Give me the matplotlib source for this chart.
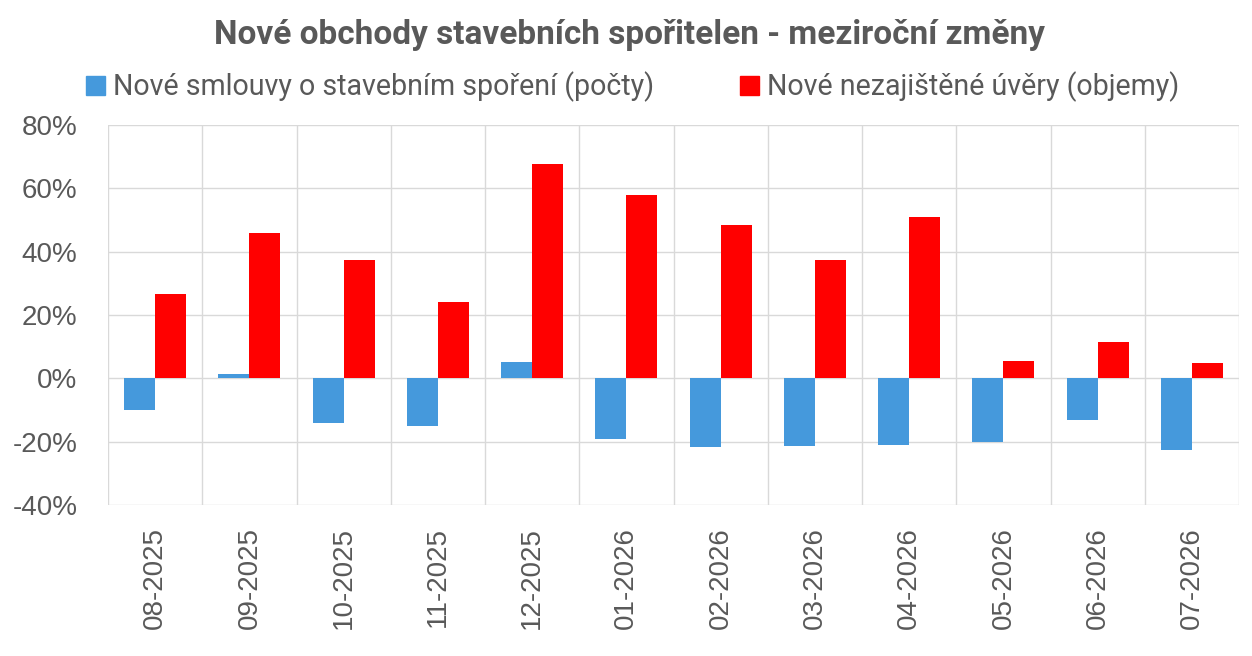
import numpy as np
import matplotlib.pyplot as plt
from matplotlib.patches import Patch
from matplotlib.ticker import FixedLocator, PercentFormatter

months = ["08-2025", "09-2025", "10-2025", "11-2025", "12-2025", "01-2026",
          "02-2026", "03-2026", "04-2026", "05-2026", "06-2026", "07-2026"]
smlouvy = [-10.1, 1.5, -14.2, -15.1, 5.1, -19.3, -21.7, -21.4, -21.2, -20.2, -13.0, -22.7]
uvery = [26.7, 46.0, 37.4, 24.0, 67.6, 57.8, 48.3, 37.3, 51.1, 5.4, 11.4, 4.7]

label_smlouvy = "Nové smlouvy o stavebním spoření (počty)"
label_uvery = "Nové nezajištěné úvěry (objemy)"
title = "Nové obchody stavebních spořitelen - meziroční změny"

BLUE = "#4599DC"
RED = "#FF0000"
GREY = "#595959"
SANS = ["Roboto", "DejaVu Sans"]

plt.rcParams['font.family'] = ["Liberation Sans", "DejaVu Sans"]
plt.rcParams['axes.unicode_minus'] = False

fig = plt.figure(figsize=(12.52, 6.56), dpi=100)
ax = fig.add_axes([108 / 1252, 1 - 505 / 656, 1131 / 1252, 380 / 656])

x = np.arange(len(months))
w = 0.33
ax.bar(x - w / 2, smlouvy, w, color=BLUE, zorder=3)
ax.bar(x + w / 2, uvery, w, color=RED, zorder=3)

ax.set_xlim(-0.5, len(months) - 0.5)
ax.set_ylim(-40, 80)
ax.set_yticks(np.arange(-40, 81, 20))
ax.yaxis.set_major_formatter(PercentFormatter(decimals=0))
ax.set_xticks(x)
ax.set_xticklabels(months, rotation=90)
ax.xaxis.set_minor_locator(FixedLocator(np.arange(-0.5, len(months), 1.0)))

ax.grid(axis='y', color='#D9D9D9', linewidth=1, zorder=0)
ax.grid(axis='x', which='minor', color='#D9D9D9', linewidth=1, zorder=0)
for s in ax.spines.values():
    s.set_visible(False)
ax.tick_params(axis='both', which='both', length=0, labelsize=20, labelcolor=GREY)
ax.tick_params(axis='y', pad=22)
ax.tick_params(axis='x', pad=16)

fig.text(0.5024, 1 - 44 / 656, title, ha='center', va='baseline', fontsize=24,
         fontweight='bold', color=GREY, family=SANS)

handles = [Patch(color=BLUE, label=label_smlouvy), Patch(color=RED, label=label_uvery)]
fig.legend(handles=handles, loc='center', bbox_to_anchor=(0.5055, 1 - 87 / 656), ncol=2,
           frameon=False, prop={'family': SANS, 'size': 20.6}, labelcolor=GREY,
           handlelength=0.65, handleheight=0.65, handletextpad=0.3, columnspacing=3.0)

fig.savefig("out.png", dpi=100)
